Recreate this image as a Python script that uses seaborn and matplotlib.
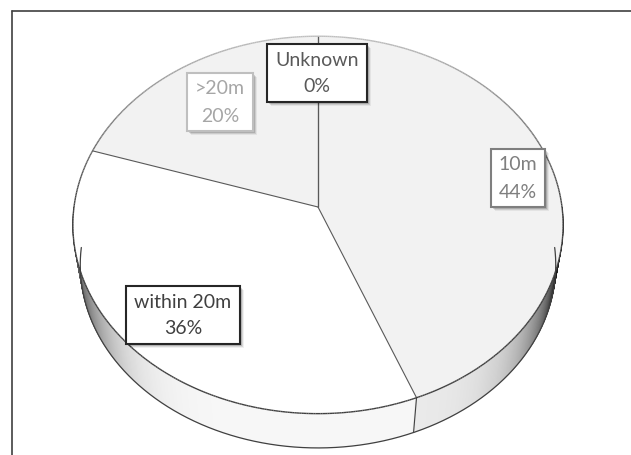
import numpy as np
import matplotlib
matplotlib.use("Agg")
import matplotlib.pyplot as plt
from matplotlib.patches import Polygon, Rectangle
import seaborn as sns

# data (clockwise from 12 o'clock)
labels = ["10m", "within 20m", ">20m", "Unknown"]
shares = [44, 36, 20, 0]
top_colors = ["#f2f2f2", "#ffffff", "#f2f2f2", "#f2f2f2"]

# label box layout (pixel centres) and styles
label_pos = [(518, 178), (183, 315), (220, 102), (317, 73)]
label_text_col = ["#7f7f7f", "#404040", "#a6a6a6", "#595959"]
label_edge_col = ["#7f7f7f", "#262626", "#bfbfbf", "#262626"]

sns.set_style("white")
plt.rcParams["font.family"] = ["Lato", "DejaVu Sans"]

W, H = 631, 455
fig = plt.figure(figsize=(W / 100, H / 100), dpi=100)
ax = fig.add_axes([0, 0, 1, 1])
ax.set_xlim(0, W)
ax.set_ylim(H, 0)
ax.axis("off")

# pie geometry in pixels: perspective view of a disc
apex = (318, 207)
sx_scale, sy_scale, persp = 244, 187, 0.095
wall_drop, wall_shrink = 40.5, 0.97


def pt(theta):
    t = np.radians(theta)
    X, Y = np.cos(t), np.sin(t)
    w = 1 + persp * Y
    return apex[0] + sx_scale * X / w, apex[1] - sy_scale * Y / w


def pt_low(theta):
    x, y = pt(theta)
    return (apex[0] + (x - apex[0]) * wall_shrink,
            apex[1] + (y - apex[1]) * wall_shrink + wall_drop)


fracs = np.array(shares, dtype=float) / sum(shares)
bounds = 90 - 360 * np.concatenate([[0], np.cumsum(fracs)])  # degrees, clockwise


def slice_of(theta):
    f = ((90 - theta) % 360) / 360
    cum = np.cumsum(fracs)
    return int(np.searchsorted(cum, f, side="right").clip(0, len(fracs) - 1))


def shade(theta):
    c = np.cos(np.radians(theta))
    if c < 0:
        return 1 - 0.8 * abs(c) ** 6
    return 1 - 0.97 * c ** 6


# side wall (front half)
steps = np.linspace(180, 360, 400)
for a0, a1 in zip(steps[:-1], steps[1:]):
    x0, y0 = pt(a0)
    x1, y1 = pt(a1)
    u0, v0 = pt_low(a0)
    u1, v1 = pt_low(a1)
    am = (a0 + a1) / 2
    base = matplotlib.colors.to_rgb(top_colors[slice_of(am)])
    col = tuple(np.clip(np.array(base) * shade(am) * 0.97, 0, 1))
    ax.add_patch(Polygon([(x0, y0), (x1, y1), (u1, v1), (u0, v0)],
                         closed=True, facecolor=col, edgecolor=col, lw=0.6))

# bottom edge of the wall
bx, by = pt_low(steps)
ax.plot(bx, by, color="#404040", lw=0.9)

# slice boundaries on the wall
for b_ang in bounds:
    a = b_ang % 360
    if 180 < a < 360:
        x, y = pt(a)
        u, v = pt_low(a)
        ax.plot([x, u], [y, v], color="#404040", lw=0.8)

# top face slices
for i, lab in enumerate(labels):
    if shares[i] == 0:
        continue
    arc = np.linspace(bounds[i], bounds[i + 1], 200)
    px, py = pt(arc)
    verts = [apex] + list(zip(px, py))
    ax.add_patch(Polygon(verts, closed=True, facecolor=top_colors[i],
                         edgecolor="none"))

# slice separators on top
for b_ang in bounds:
    x, y = pt(b_ang)
    ax.plot([apex[0], x], [apex[1], y], color="#595959", lw=0.8)

# rim outline: light at back, dark at front
rim = np.linspace(0, 360, 721)
for a0, a1 in zip(rim[:-1], rim[1:]):
    x0, y0 = pt(a0)
    x1, y1 = pt(a1)
    s = np.sin(np.radians((a0 + a1) / 2))
    g = 0.25 + 0.5 * max(s, 0)
    ax.plot([x0, x1], [y0, y1], color=(g, g, g), lw=1.0, solid_capstyle="butt")

# data labels: name and share on two lines
pairs = []
for i, lab in enumerate(labels):
    x, y = label_pos[i]
    t1 = ax.text(x, y - 13, lab, ha="center", va="center", fontsize=14,
                 color=label_text_col[i], zorder=6)
    t2 = ax.text(x, y + 14, f"{shares[i]}%", ha="center", va="center",
                 fontsize=14, color=label_text_col[i], zorder=6)
    pairs.append((t1, t2))

# boxes with drop shadow sized to the text
fig.canvas.draw()
r = fig.canvas.get_renderer()
inv = ax.transData.inverted()
for i, (t1, t2) in enumerate(pairs):
    e1 = t1.get_window_extent(r)
    e2 = t2.get_window_extent(r)
    (ax0, _), (ax1, _) = inv.transform([[min(e1.x0, e2.x0), 0],
                                        [max(e1.x1, e2.x1), 0]])
    bx0, bx1 = min(ax0, ax1) - 8, max(ax0, ax1) + 8
    cy_box = label_pos[i][1]
    by0, by1 = cy_box - 29, cy_box + 29
    for off, al in [(4, 0.06), (3, 0.1), (2, 0.14)]:
        ax.add_patch(Rectangle((bx0 + off, by0 + off), bx1 - bx0, by1 - by0,
                               facecolor="black", edgecolor="none", alpha=al, zorder=4))
    ax.add_patch(Rectangle((bx0, by0), bx1 - bx0, by1 - by0, facecolor="white",
                           edgecolor=label_edge_col[i], lw=1.5, zorder=5))

# chart frame (top and left edges visible)
ax.plot([12, W], [11, 11], color="#404040", lw=1.2)
ax.plot([12, 12], [11, H], color="#404040", lw=1.2)

fig.savefig("out.png", dpi=100)
